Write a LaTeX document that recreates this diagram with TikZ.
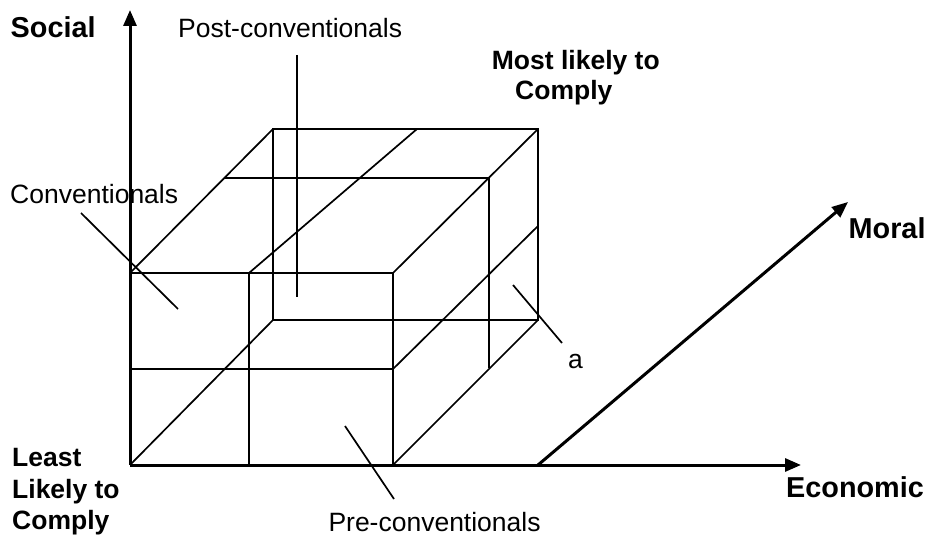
\documentclass[tikz,border=0pt]{standalone}
\usepackage{fontspec}
\setmainfont{Liberation Sans}
\usetikzlibrary{arrows.meta}
\tikzset{
  lbl/.style={font=\fontsize{26.5}{30}\selectfont, inner sep=0pt, anchor=base west},
  blbl/.style={lbl, font=\bfseries\fontsize{26.5}{30}\selectfont},
  axlbl/.style={lbl, font=\bfseries\fontsize{28.8}{32}\selectfont},
  axis/.style={line width=3pt, -{Triangle[length=16pt,width=13pt]}},
  thin/.style={line width=1.7pt},
  thick2/.style={line width=2.8pt},
  leader/.style={line width=1.7pt}
}
\begin{document}
\begin{tikzpicture}[x=1pt,y=-1pt]
\useasboundingbox (0,0) rectangle (927,537);
% coordinates
\coordinate (O) at (130,465);
\coordinate (Ytip) at (130,10);
\coordinate (Xtip) at (801,465);
\coordinate (Mstart) at (538,465);
\coordinate (Mtip) at (848,202);
% front face
\coordinate (F1) at (130,273);
\coordinate (F2) at (393,273);
\coordinate (F3) at (393,465);
\coordinate (Fm1) at (130,369);
\coordinate (Fm2) at (393,369);
\coordinate (Fv1) at (249,273);
\coordinate (Fv2) at (249,465);
% back face
\coordinate (B1) at (273,129);
\coordinate (B2) at (538,129);
\coordinate (B3) at (538,320);
\coordinate (B4) at (273,320);
\coordinate (Bm) at (538,226);
\coordinate (Bv) at (417,129);
% middle plane
\coordinate (M1) at (225,178);
\coordinate (M2) at (489,178);
\coordinate (M3) at (489,368);
% leader ends
\coordinate (Lp1) at (297,55);  \coordinate (Lp2) at (297,297);
\coordinate (Lc1) at (81,213);  \coordinate (Lc2) at (178,309);
\coordinate (La1) at (513,285); \coordinate (La2) at (562,343);
\coordinate (Lr1) at (345,426); \coordinate (Lr2) at (394,499);

% cube (thin)
\draw[thin] (F1) -- (F2) -- (F3);
\draw[thin] (B1) -- (B2) -- (B3) -- (B4) -- cycle;
\draw[thin] (F1) -- (B1);
\draw[thin] (F2) -- (B2);
\draw[thin] (F3) -- (B3);
\draw[thin] (O) -- (B4);
\draw[thin] (Fv1) -- (Bv);
\draw[thin] (Fm2) -- (Bm);
\draw[thin] (M1) -- (M2) -- (M3);
% thick front divisions
\draw[thick2] (Fm1) -- (Fm2);
\draw[thick2] (Fv1) -- (Fv2);
% axes
\draw[axis] (O) -- (Ytip);
\draw[axis] (O) -- (Xtip);
\draw[axis] (Mstart) -- (Mtip);
% leaders
\draw[leader] (Lp1) -- (Lp2);
\draw[leader] (Lc1) -- (Lc2);
\draw[leader] (La1) -- (La2);
\draw[leader] (Lr1) -- (Lr2);

% labels
\node[axlbl] (social) at (10.5,37.3) {Social};
\node[lbl] (post) at (178,37.3) {Post-conventionals};
\node[blbl] (most1) at (491.7,69.3) {Most likely to};
\node[blbl] (most2) at (515,99.3) {Comply};
\node[lbl] (conv) at (10,203.3) {Conventionals};
\node[axlbl] (moral) at (848.5,238.3) {Moral};
\node[lbl] (a) at (568,369) {a};
\node[blbl] (least1) at (12,466.7) {Least};
\node[blbl] (least2) at (12,498.5) {Likely to};
\node[blbl] (least3) at (12,529.5) {Comply};
\node[axlbl] (econ) at (786,497.3) {Economic};
\node[lbl] (pre) at (328.3,531) {Pre-conventionals};
\end{tikzpicture}
\end{document}
